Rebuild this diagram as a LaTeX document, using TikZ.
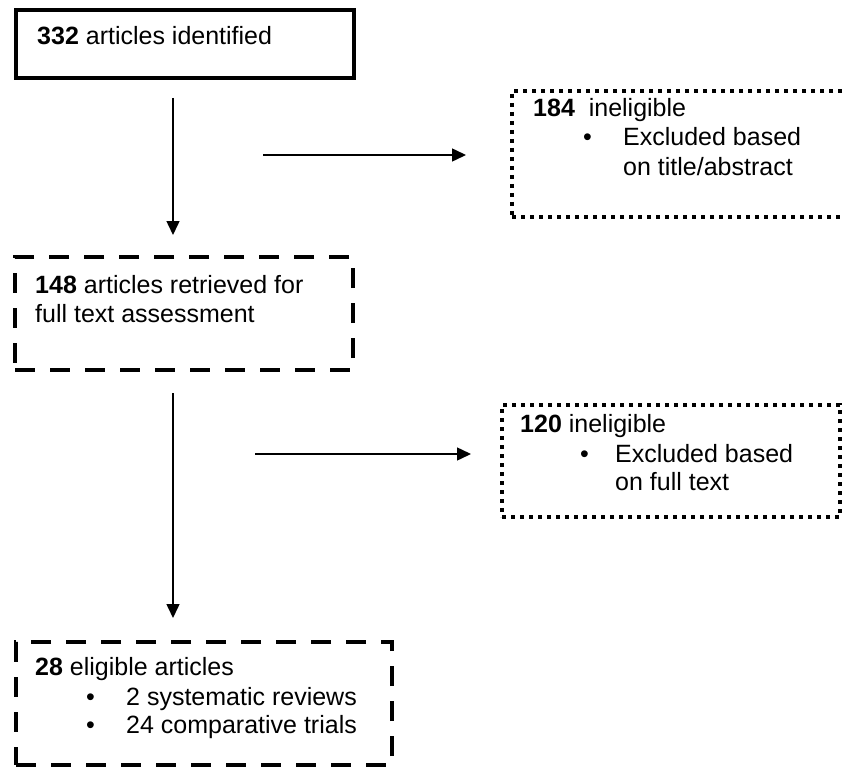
\documentclass[tikz,border=0pt]{standalone}
\usepackage{fontspec}
\setmainfont{Liberation Sans}
\usetikzlibrary{arrows.meta}
\begin{document}
\begin{tikzpicture}[x=1pt,y=-1pt,
  solidbox/.style={draw,line width=4.5pt,rectangle,inner sep=0pt},
  dashbox/.style={draw,line width=4pt,rectangle,inner sep=0pt,dash pattern=on 20pt off 15pt},
  dotbox/.style={draw,line width=4pt,rectangle,inner sep=0pt,dash pattern=on 4pt off 5pt},
  txt/.style={anchor=base west,inner sep=0pt,font=\fontsize{25}{29}\selectfont},
  arr/.style={line width=1.5pt,-{Triangle[length=14pt,width=13pt]}}]
\useasboundingbox (0,0) rectangle (844,768);
\fill[white] (0,0) rectangle (844,768);
% boxes
\node[solidbox,minimum width=338pt,minimum height=68pt] (b1) at (185,44) {};
\node[dotbox,minimum width=345pt,minimum height=126pt] (b2) at (684.5,154) {};
\node[dashbox,minimum width=338pt,minimum height=113pt] (b3) at (184,313.5) {};
\node[dotbox,minimum width=338pt,minimum height=112pt] (b4) at (671,461) {};
\node[dashbox,minimum width=376pt,minimum height=123pt] (b5) at (204,703.5) {};
% texts
\node[txt] (t1) at (37,45) {\textbf{332} articles identified};
\node[txt] (t2a) at (533,117) {\textbf{184}\ \ ineligible};
\node[txt] (t2b) at (583,146) {•};
\node[txt] (t2c) at (623,146) {Excluded based};
\node[txt] (t2d) at (623,175) {on title/abstract};
\node[txt] (t3a) at (35,293) {\textbf{148} articles retrieved for};
\node[txt] (t3b) at (35,322) {full text assessment};
\node[txt] (t4a) at (520,432) {\textbf{120} ineligible};
\node[txt] (t4b) at (580,462) {•};
\node[txt] (t4c) at (615,462) {Excluded based};
\node[txt] (t4d) at (615,490) {on full text};
\node[txt] (t5a) at (35,675) {\textbf{28} eligible articles};
\node[txt] (t5b) at (86,705) {•};
\node[txt] (t5c) at (126,705) {2 systematic reviews};
\node[txt] (t5d) at (86,733) {•};
\node[txt] (t5e) at (126,733) {24 comparative trials};
% connector end points
\coordinate (a1s) at (173,98);
\coordinate (a1e) at (173,235);
\coordinate (h1s) at (263,155);
\coordinate (h1e) at (466,155);
\coordinate (a2s) at (173,393);
\coordinate (a2e) at (173,618);
\coordinate (h2s) at (255,454);
\coordinate (h2e) at (471,454);
\draw[arr] (a1s) -- (a1e);
\draw[arr] (h1s) -- (h1e);
\draw[arr] (a2s) -- (a2e);
\draw[arr] (h2s) -- (h2e);
\end{tikzpicture}
\end{document}
